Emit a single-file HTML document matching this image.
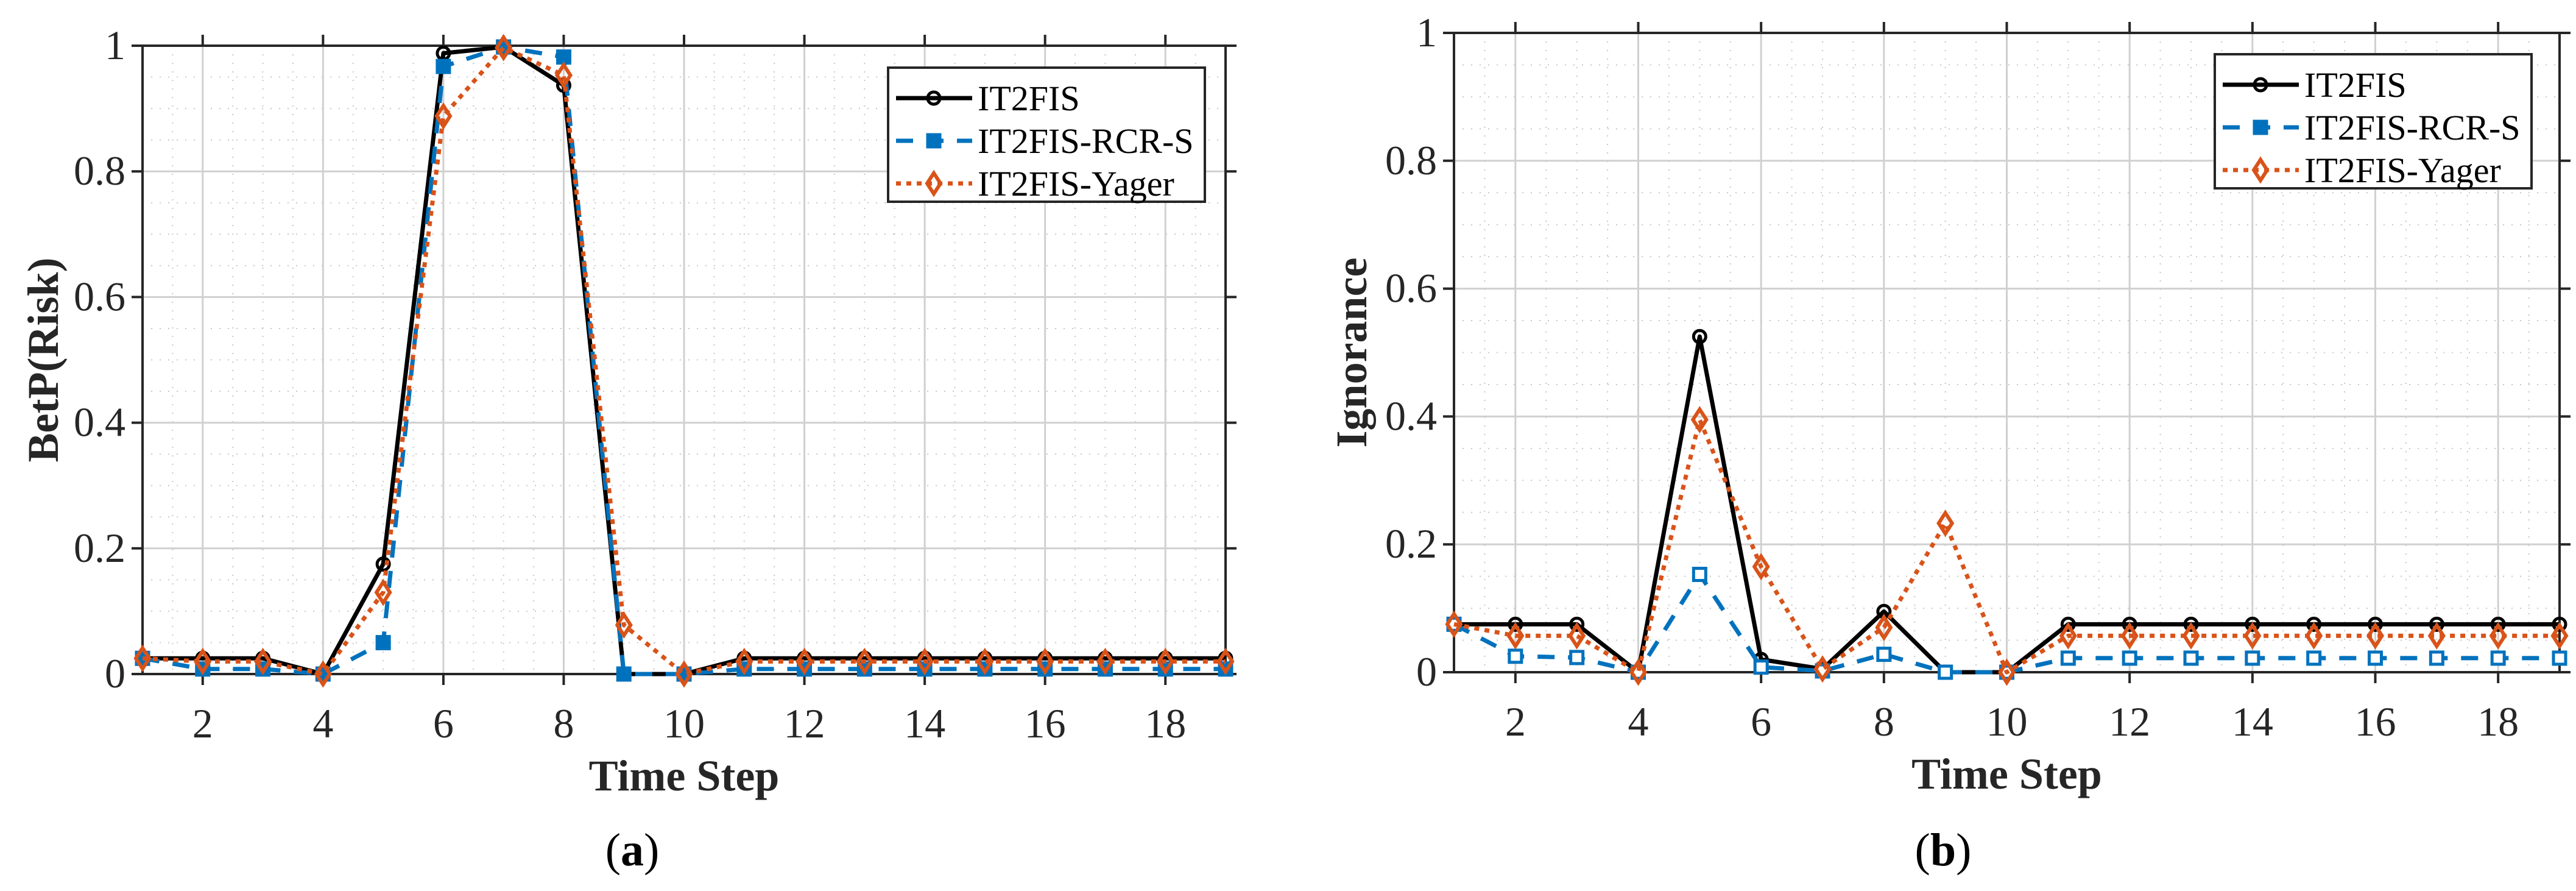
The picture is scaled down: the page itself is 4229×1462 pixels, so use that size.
<!DOCTYPE html>
<html><head><meta charset="utf-8"><style>
html,body{margin:0;padding:0;background:#fff;}
svg{display:block;font-family:"Liberation Serif",serif;}
</style></head><body>
<svg id="fig" width="4229" height="1462" viewBox="0 0 4229 1462" xmlns="http://www.w3.org/2000/svg" font-family="Liberation Serif, serif"></svg>
<script>
const steps = [1,2,3,4,5,6,7,8,9,10,11,12,13,14,15,16,17,18,19];
const xTicks = [2,4,6,8,10,12,14,16,18];
const yTicks = [0,0.2,0.4,0.6,0.8,1];
const yTickLabels = ["0","0.2","0.4","0.6","0.8","1"];
const seriesNames = ["IT2FIS","IT2FIS-RCR-S","IT2FIS-Yager"];
const riskIT2FIS = [0.025,0.025,0.025,0,0.175,0.988,0.998,0.937,0,0,0.025,0.025,0.025,0.025,0.025,0.025,0.025,0.025,0.025];
const riskRCRS   = [0.025,0.008,0.008,0,0.05,0.967,0.998,0.982,0,0,0.008,0.008,0.008,0.008,0.008,0.008,0.008,0.008,0.008];
const riskYager  = [0.025,0.02,0.02,0,0.13,0.888,0.997,0.953,0.078,0,0.02,0.02,0.02,0.02,0.02,0.02,0.02,0.02,0.02];
const ignIT2FIS  = [0.075,0.075,0.075,0,0.525,0.02,0.005,0.095,0,0,0.075,0.075,0.075,0.075,0.075,0.075,0.075,0.075,0.075];
const ignRCRS    = [0.075,0.025,0.023,0,0.153,0.008,0.002,0.028,0,0,0.022,0.022,0.022,0.022,0.022,0.022,0.022,0.022,0.022];
const ignYager   = [0.075,0.057,0.057,0,0.395,0.165,0.005,0.07,0.233,0,0.057,0.057,0.057,0.057,0.057,0.057,0.057,0.057,0.057];

const NS="http://www.w3.org/2000/svg";
const svg=document.getElementById('fig');
function mk(tag,attrs,parent){const e=document.createElementNS(NS,tag);for(const k in attrs)e.setAttribute(k,attrs[k]);(parent||svg).appendChild(e);return e;}

const BLUE="#0072BD", ORANGE="#D95319";

function panel(cfg){
  const g=mk('g',{});
  
  
  const L=cfg.l,R=cfg.r,T=cfg.t,B=cfg.b;
  const sx=v=>L+(v-1)/(18)*(R-L);
  const sy=v=>B-v*(B-T);
  const mg=mk('g',{stroke:"#c8c8c8","stroke-width":2,"stroke-dasharray":"2 12"},g);
  
  
  for(let v=1.5;v<19;v+=0.5){ if(Math.abs(v%2)<1e-9) continue; mk('line',{x1:sx(v),x2:sx(v),y1:T,y2:B},mg);}
  for(let v=0.05;v<1;v+=0.05){ if(Math.abs((v*5)-Math.round(v*5))<1e-6) continue; mk('line',{x1:L,x2:R,y1:sy(v),y2:sy(v)},mg);}
  const gg=mk('g',{stroke:"#d0d0d0","stroke-width":3},g);
  
  
  xTicks.forEach(v=>mk('line',{x1:sx(v),x2:sx(v),y1:T,y2:B},gg));
  yTicks.forEach(v=>mk('line',{x1:L,x2:R,y1:sy(v),y2:sy(v)},gg));
  const ax=mk('g',{stroke:"#262626","stroke-width":4},g);
  
  
  mk('rect',{x:L,y:T,width:R-L,height:B-T,fill:"none"},ax);
  xTicks.forEach(v=>{mk('line',{x1:sx(v),x2:sx(v),y1:B,y2:B+18},ax);mk('line',{x1:sx(v),x2:sx(v),y1:T,y2:T-18},ax);});
  yTicks.forEach(v=>{mk('line',{x1:L,x2:L-18,y1:sy(v),y2:sy(v)},ax);mk('line',{x1:R,x2:R+18,y1:sy(v),y2:sy(v)},ax);});
  xTicks.forEach(v=>{const t=mk('text',{x:sx(v),y:B+104,"font-size":68,"text-anchor":"middle",fill:"#262626","font-family":"Liberation Serif, serif"},g);t.textContent=v;
    });
  yTicks.forEach((v,i)=>{const t=mk('text',{x:L-28,y:sy(v)+22,"font-size":68,"text-anchor":"end",fill:"#262626","font-family":"Liberation Serif, serif"},g);t.textContent=yTickLabels[i];
    });
  const xt=mk('text',{x:(L+R)/2,y:B+191,"font-size":72,"font-weight":"bold","text-anchor":"middle",fill:"#262626","font-family":"Liberation Serif, serif"},g);
  xt.textContent="Time Step";
  
  const yt=mk('text',{x:0,y:0,"font-size":72,"font-weight":"bold","text-anchor":"middle",fill:"#262626","font-family":"Liberation Serif, serif",transform:`translate(${cfg.ylx},${(T+B)/2}) rotate(-90)`},g);
  yt.textContent=cfg.ytitle;
  
  const cap=mk('text',{x:cfg.capx,y:1420,"font-size":76,"text-anchor":"middle",fill:"#000","font-family":"Liberation Serif, serif"},g);
  cap.innerHTML='(<tspan font-weight="bold">'+cfg.cap+'</tspan>)';
  
  const styles=[
    {c:"#000",w:7,d:"",m:"circle"},
    {c:BLUE,w:7,d:"28 22",m:"square"},
    {c:ORANGE,w:7,d:"8 9",m:"diamond"}];
  function marker(m,x,y,c,parent,fill){
    if(m==="circle") mk('circle',{cx:x,cy:y,r:10,fill:"none",stroke:c,"stroke-width":5},parent);
    else if(m==="square") mk('rect',{x:x-10,y:y-10,width:20,height:20,fill:fill?c:"#fff",stroke:c,"stroke-width":5},parent);
    else mk('path',{d:`M${x} ${y-17}L${x+11} ${y}L${x} ${y+17}L${x-11} ${y}Z`,fill:"none",stroke:c,"stroke-width":6},parent);
  }
  cfg.data.forEach((arr,si)=>{
    const s=styles[si];
    const sg=mk('g',{},g);
    
    
    const pts=arr.map((v,i)=>sx(steps[i])+','+sy(v)).join(' ');
    const pl=mk('polyline',{points:pts,fill:"none",stroke:s.c,"stroke-width":s.w,"stroke-dasharray":s.d,"stroke-linejoin":"round"},sg);
    
    arr.forEach((v,i)=>marker(s.m,sx(steps[i]),sy(v),s.c,sg,cfg.filledSq));
  });
  const lg=mk('g',{},g);
  
  
  const lx=cfg.lg[0],ly=cfg.lg[1];
  mk('rect',{x:lx,y:ly,width:520,height:220,fill:"#fff",stroke:"#262626","stroke-width":4},lg);
  seriesNames.forEach((n,i)=>{
    const s=styles[i];const yy=ly+50+i*70;
    const e=mk('g',{},lg);
    
    
    mk('line',{x1:lx+13,x2:lx+138,y1:yy,y2:yy,stroke:s.c,"stroke-width":7,"stroke-dasharray":s.d},e);
    marker(s.m,lx+75,yy,s.c,e,true);
    const t=mk('text',{x:lx+147,y:yy+20,"font-size":58,fill:"#000","font-family":"Liberation Serif, serif"},e);t.textContent=n;
  });
}
panel({name:'chart-betp-risk',l:234,r:2012,t:75,b:1106,ytitle:"BetP(Risk)",ylx:95,capx:1038,cap:"a",
  data:[riskIT2FIS,riskRCRS,riskYager],filledSq:true,lg:[1458,111]});
panel({name:'chart-ignorance',l:2387,r:4202,t:54,b:1103,ytitle:"Ignorance",ylx:2243,capx:3190,cap:"b",
  data:[ignIT2FIS,ignRCRS,ignYager],filledSq:false,lg:[3636,89]});
</script>
</body></html>
